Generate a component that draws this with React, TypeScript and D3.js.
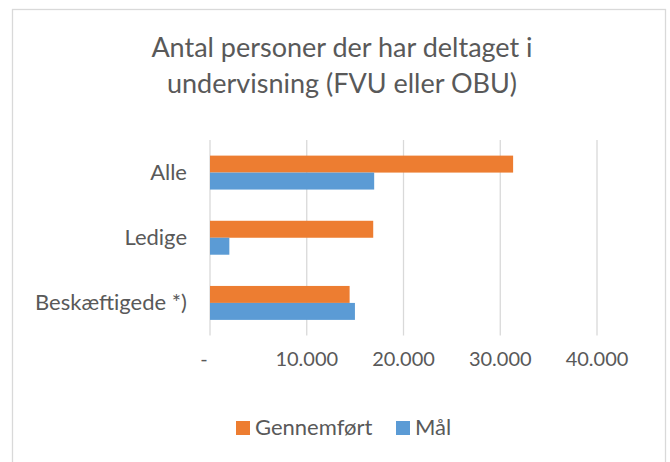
import React from "react";
import * as d3 from "d3";

const categories = ["Alle", "Ledige", "Beskæftigede *)"];
const gennemfort = [31330, 16870, 14430];
const maal = [16970, 2000, 14980];
const series = [
  { name: "Gennemført", values: gennemfort, color: "#ED7D31" },
  { name: "Mål", values: maal, color: "#5B9BD5" },
];
const xTicks = [0, 10000, 20000, 30000, 40000];
const titleLines = ["Antal personer der har deltaget i", "undervisning (FVU eller OBU)"];

const W = 670;
const H = 462;
const font = "Lato, 'Open Sans', sans-serif";
const textColor = "#595959";
const gridColor = "#D9D9D9";

const fmt = (v: number) => (v === 0 ? "-" : d3.format(",")(v).replace(/,/g, "."));

export default function App() {
  const x = d3.scaleLinear().domain([0, 40000]).range([210, 597]);
  const y = d3.scaleBand().domain(categories).range([140, 335.5]).paddingInner(0).paddingOuter(0);
  const inner = d3
    .scaleBand()
    .domain(series.map((s) => s.name))
    .range([0, y.bandwidth()])
    .paddingInner(0)
    .paddingOuter(0.92);

  return (
    <svg width={W} height={H} style={{ position: "absolute", left: 0, top: 0 }}>
      <rect x={0} y={0} width={W} height={H} fill="#fff" />
      <rect x={12.5} y={9.5} width={653} height={470} fill="#fff" stroke={gridColor} strokeWidth={1.3} />
      {titleLines.map((t, i) => (
        <text key={i} x={342} y={57 + i * 36} textAnchor="middle" fontFamily={font} fontSize={27} fill={textColor}>
          {t}
        </text>
      ))}
      {xTicks.map((t) => (
        <g key={t}>
          <line x1={x(t)} x2={x(t)} y1={140} y2={335.5} stroke={gridColor} strokeWidth={1.3} />
          <text
            x={t === 0 ? x(t) - 6 : x(t)}
            y={366}
            textAnchor="middle"
            fontFamily={font}
            fontSize={20}
            fill={textColor}
          >
            {fmt(t)}
          </text>
        </g>
      ))}
      {categories.map((c, ci) => (
        <g key={c}>
          <text
            x={187}
            y={(y(c) as number) + y.bandwidth() / 2 + 7}
            textAnchor="end"
            fontFamily={font}
            fontSize={22}
            fill={textColor}
          >
            {c}
          </text>
          {series.map((s) => (
            <rect
              key={s.name}
              x={x(0)}
              y={(y(c) as number) + (inner(s.name) as number)}
              width={x(s.values[ci]) - x(0)}
              height={inner.bandwidth()}
              fill={s.color}
            />
          ))}
        </g>
      ))}
      {series.map((s, i) => {
        const lx = [236, 396][i];
        return (
          <g key={s.name}>
            <rect x={lx} y={421} width={14} height={14} fill={s.color} />
            <text x={lx + 19} y={435} fontFamily={font} fontSize={22} fill={textColor}>
              {s.name}
            </text>
          </g>
        );
      })}
    </svg>
  );
}
